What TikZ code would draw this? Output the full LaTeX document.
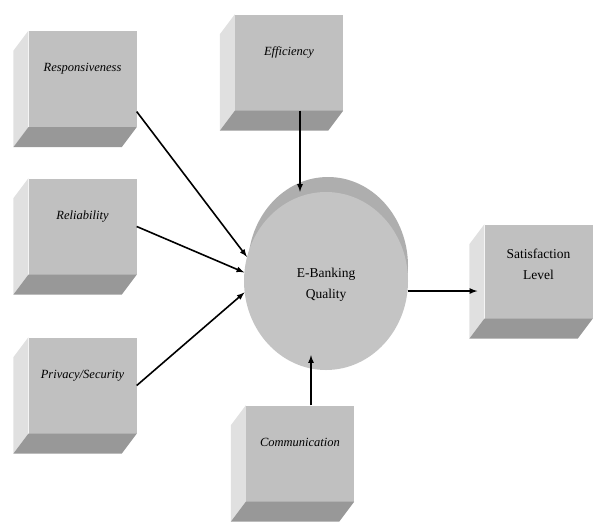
\documentclass[tikz,border=0pt]{standalone}
\usepackage{fontspec}
\setmainfont{Liberation Serif}
\usepackage{xcolor}
\usepackage{tikz}
\usetikzlibrary{shapes.geometric,calc}
\definecolor{facefront}{RGB}{192,192,192}
\definecolor{faceleft}{RGB}{224,224,224}
\definecolor{facebottom}{RGB}{152,152,152}
\definecolor{discfront}{RGB}{196,196,196}
\definecolor{discrim}{RGB}{174,174,174}
\tikzstyle{node:factor}=[rectangle,fill=facefront,minimum width=108pt,minimum height=96pt,inner sep=0pt,
  font=\fontsize{12.5}{14}\selectfont\itshape,text height=8pt,text depth=23pt]
\tikzstyle{node:outcome}=[rectangle,fill=facefront,minimum width=108pt,minimum height=94pt,inner sep=0pt,
  align=center,font=\fontsize{13.5}{21}\selectfont,text height=16pt]
\tikzstyle{node:quality}=[ellipse,fill=discfront,minimum width=164pt,minimum height=178pt,inner sep=0pt,
  align=center,font=\fontsize{13.5}{21}\selectfont,text height=38pt]
\tikzstyle{draw:link}=[-latex, line width=1.6pt]
% side faces of a box, pushed down to the left
\newcommand{\boxsides}[1]{%
  \fill[faceleft] (#1.north west) -- ++(-15,20) -- ($(#1.south west)+(-15,20)$) -- (#1.south west) -- cycle;
  \fill[facebottom] (#1.south west) -- (#1.south east) -- ++(-15,20) -- ($(#1.south west)+(-15,20)$) -- cycle;
}
\begin{document}
\begin{tikzpicture}[x=1pt,y=-1pt]
        \useasboundingbox (0,0) rectangle (593,522);

        % Factors on the left
        \node[node:factor] (resp) at (82.5,79) {Responsiveness};
        \node[node:factor] (rel) at (82.5,226.5) {Reliability};
        \node[node:factor] (priv) at (82.5,385.5) {Privacy/Security};

        % Factors above and below
        \node[node:factor] (eff) at (289,62.5) {Efficiency};
        \node[node:factor] (comm) at (300,453.5) {Communication};

        % Outcome
        \node[node:outcome] (sat) at (538.5,271.5) {Satisfaction\\Level};

        \boxsides{resp}
        \boxsides{rel}
        \boxsides{priv}
        \boxsides{eff}
        \boxsides{comm}
        \boxsides{sat}

        % Quality disc
        \fill[discrim] (328,266) ellipse [x radius=80, y radius=89];
        \node[node:quality] (ebq) at (326,281) {E-Banking\\Quality};

        % draw:links into the disc
        \draw[draw:link] (resp.-31) -- (ebq.163);
        \draw[draw:link] (rel.east) -- (ebq.174);
        \draw[draw:link] (priv.east) -- (ebq.188);
        \draw[draw:link] ([xshift=11pt]eff.south) -- ([xshift=11pt]eff.south |- ebq.north);
        \draw[draw:link, shorten >=-15pt] ([xshift=11pt]comm.north) -- ([xshift=11pt]comm.north |- ebq.south);

        % draw:link to the outcome
        \draw[draw:link, shorten >=7pt] (ebq.-7) -- (ebq.-7 -| sat.west);

    \end{tikzpicture}
\end{document}
